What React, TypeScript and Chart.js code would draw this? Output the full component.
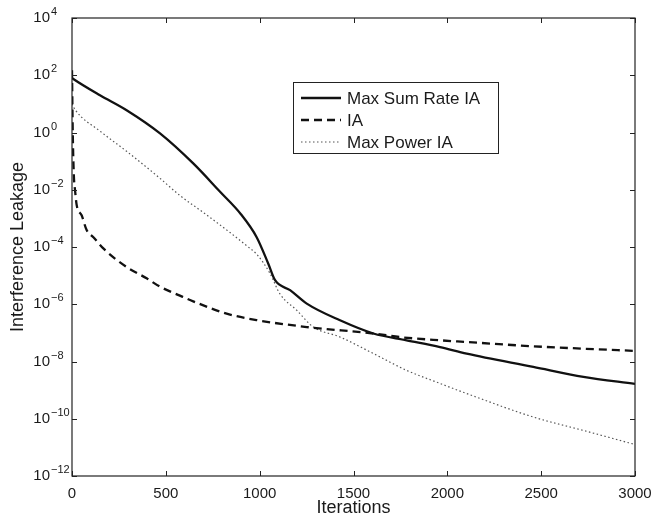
import React, { useEffect, useRef } from "react";
import { Chart, registerables } from "chart.js";
Chart.register(...registerables);

// Max Sum Rate IA (solid)
const sumRateIter = [0, 7, 149, 291, 469, 646, 789, 900, 984, 1046, 1082, 1162, 1251, 1428, 1606, 1783, 1961, 2103, 2458, 2725, 3000];
const sumRateVal = [80, 74, 20, 6.0, 0.93, 0.083, 8.5e-3, 1.4e-3, 2.2e-4, 2.6e-5, 6.9e-6, 3.1e-6, 1.05e-6, 2.75e-7, 9.5e-8, 5.5e-8, 3.2e-8, 1.9e-8, 6.5e-9, 2.9e-9, 1.65e-9];

// IA (dashed)
const iaIter = [0, 4, 10, 16, 25, 52, 78, 114, 167, 291, 400, 469, 575, 646, 824, 984, 1251, 1606, 1750, 1961, 2103, 2458, 2725, 3000];
const iaVal = [150, 1, 0.03, 0.01, 2.9e-3, 1.26e-3, 3.9e-4, 2.2e-4, 8.9e-5, 2.0e-5, 7.9e-6, 4.1e-6, 2.0e-6, 1.26e-6, 4.7e-7, 2.8e-7, 1.6e-7, 9.5e-8, 7.1e-8, 5.5e-8, 4.8e-8, 3.4e-8, 2.8e-8, 2.35e-8];

// Max Power IA (dotted)
const powerIter = [0, 16, 149, 291, 469, 575, 700, 842, 931, 984, 1055, 1108, 1197, 1286, 1428, 1606, 1783, 1943, 2103, 2458, 2725, 3000];
const powerVal = [10, 6.3, 1.12, 0.22, 0.025, 6.3e-3, 1.6e-3, 3.2e-4, 1.1e-4, 5.6e-5, 1.2e-5, 2.3e-6, 6.2e-7, 1.6e-7, 7.2e-8, 1.9e-8, 4.9e-9, 1.9e-9, 7.6e-10, 1.15e-10, 3.9e-11, 1.26e-11];

const seriesNames = ["Max Sum Rate IA", "IA", "Max Power IA"];
const yTickValues = [1e-12, 1e-10, 1e-8, 1e-6, 1e-4, 1e-2, 1, 1e2, 1e4];
const yTickExponents = ["−12", "−10", "−8", "−6", "−4", "−2", "0", "2", "4"];
const xTickValues = [0, 500, 1000, 1500, 2000, 2500, 3000];

const FONT = "'Liberation Sans', Arial, Helvetica, sans-serif";
const INK = "#1a1a1a";

const toPoints = (xs: number[], ys: number[]) => xs.map((x, i) => ({ x, y: ys[i] }));

const styles = [
  { color: "#111", width: 2.3, dash: [] as number[] },
  { color: "#111", width: 2.3, dash: [8, 5] },
  { color: "#555", width: 1.2, dash: [1.5, 2.5] },
];

const framePlugin = {
  id: "frame",
  afterDatasetsDraw(chart: any) {
    const { ctx, chartArea: a, scales } = chart;
    ctx.save();
    ctx.strokeStyle = "#222";
    ctx.lineWidth = 1.2;
    ctx.setLineDash([]);
    ctx.strokeRect(a.left, a.top, a.right - a.left, a.bottom - a.top);
    ctx.lineWidth = 1;
    const tl = 5;
    xTickValues.forEach((v) => {
      const px = Math.round(scales.x.getPixelForValue(v)) + 0.5;
      ctx.beginPath();
      ctx.moveTo(px, a.bottom);
      ctx.lineTo(px, a.bottom - tl);
      ctx.moveTo(px, a.top);
      ctx.lineTo(px, a.top + tl);
      ctx.stroke();
    });
    yTickValues.forEach((v, i) => {
      const py = Math.round(scales.y.getPixelForValue(v)) + 0.5;
      ctx.beginPath();
      ctx.moveTo(a.left, py);
      ctx.lineTo(a.left + tl, py);
      ctx.moveTo(a.right, py);
      ctx.lineTo(a.right - tl, py);
      ctx.stroke();
      // exponent of the "10" tick label
      ctx.fillStyle = INK;
      ctx.font = `11px ${FONT}`;
      ctx.textAlign = "left";
      ctx.textBaseline = "middle";
      ctx.fillText(yTickExponents[i], a.left - 21, py - 7);
    });
    ctx.restore();
  },
};

const legendPlugin = {
  id: "boxLegend",
  afterDraw(chart: any) {
    const { ctx } = chart;
    const bx = 293, by = 82, bw = 205, bh = 71;
    ctx.save();
    ctx.fillStyle = "#fff";
    ctx.fillRect(bx, by, bw, bh);
    ctx.strokeStyle = "#222";
    ctx.lineWidth = 1;
    ctx.setLineDash([]);
    ctx.strokeRect(bx + 0.5, by + 0.5, bw, bh);
    const rows = [98, 120, 142];
    seriesNames.forEach((name, i) => {
      const s = styles[i];
      ctx.beginPath();
      ctx.strokeStyle = s.color;
      ctx.lineWidth = s.width;
      ctx.setLineDash(s.dash);
      ctx.moveTo(301, rows[i]);
      ctx.lineTo(341, rows[i]);
      ctx.stroke();
      ctx.setLineDash([]);
      ctx.fillStyle = INK;
      ctx.font = `17px ${FONT}`;
      ctx.textBaseline = "middle";
      ctx.textAlign = "left";
      ctx.fillText(name, 347, rows[i] + 1);
    });
    ctx.restore();
  },
};

export default function App() {
  const ref = useRef<HTMLCanvasElement>(null);
  useEffect(() => {
    const canvas = ref.current!;
    const data = [
      toPoints(sumRateIter, sumRateVal),
      toPoints(iaIter, iaVal),
      toPoints(powerIter, powerVal),
    ];
    const chart = new Chart(canvas, {
      type: "line",
      data: {
        datasets: seriesNames.map((name, i) => ({
          label: name,
          data: data[i],
          borderColor: styles[i].color,
          borderWidth: styles[i].width,
          borderDash: styles[i].dash,
          pointRadius: 0,
          fill: false,
          cubicInterpolationMode: "monotone" as const,
        })),
      },
      options: {
        responsive: false,
        animation: false,
        devicePixelRatio: 1,
        layout: { padding: { top: 18, right: 17, left: 0, bottom: 0 } },
        plugins: { legend: { display: false }, tooltip: { enabled: false } },
        scales: {
          x: {
            type: "linear",
            min: 0,
            max: 3000,
            afterBuildTicks: (s: any) => {
              s.ticks = xTickValues.map((v) => ({ value: v }));
            },
            ticks: {
              autoSkip: false,
              maxRotation: 0,
              padding: 9,
              color: INK,
              font: { family: FONT, size: 15 },
              callback: (v: any) => String(v),
            },
            grid: { display: false, drawTicks: false },
            border: { display: false },
            title: {
              display: true,
              text: "Iterations",
              color: INK,
              font: { family: FONT, size: 18, lineHeight: 1 },
              padding: { top: 0, bottom: 1 },
            },
            afterFit: (s: any) => {
              s.height = 42;
              s.paddingLeft = 0;
              s.paddingRight = 0;
            },
          },
          y: {
            type: "logarithmic",
            min: 1e-12,
            max: 1e4,
            afterBuildTicks: (s: any) => {
              s.ticks = yTickValues.map((v) => ({ value: v }));
            },
            ticks: {
              autoSkip: false,
              padding: 22,
              color: INK,
              font: { family: FONT, size: 15 },
              callback: () => "10",
            },
            grid: { display: false, drawTicks: false },
            border: { display: false },
            title: {
              display: true,
              text: "Interference Leakage",
              color: INK,
              font: { family: FONT, size: 18 },
              padding: { top: 7, bottom: 0 },
            },
            afterFit: (s: any) => {
              s.width = 72;
              s.paddingTop = 0;
              s.paddingBottom = 0;
            },
          },
        },
      },
      plugins: [framePlugin, legendPlugin],
    });
    return () => chart.destroy();
  }, []);
  return (
    <div style={{ position: "absolute", left: 0, top: 0, width: 652, height: 518, background: "#fff" }}>
      <canvas ref={ref} width={652} height={518} style={{ display: "block" }} />
    </div>
  );
}
